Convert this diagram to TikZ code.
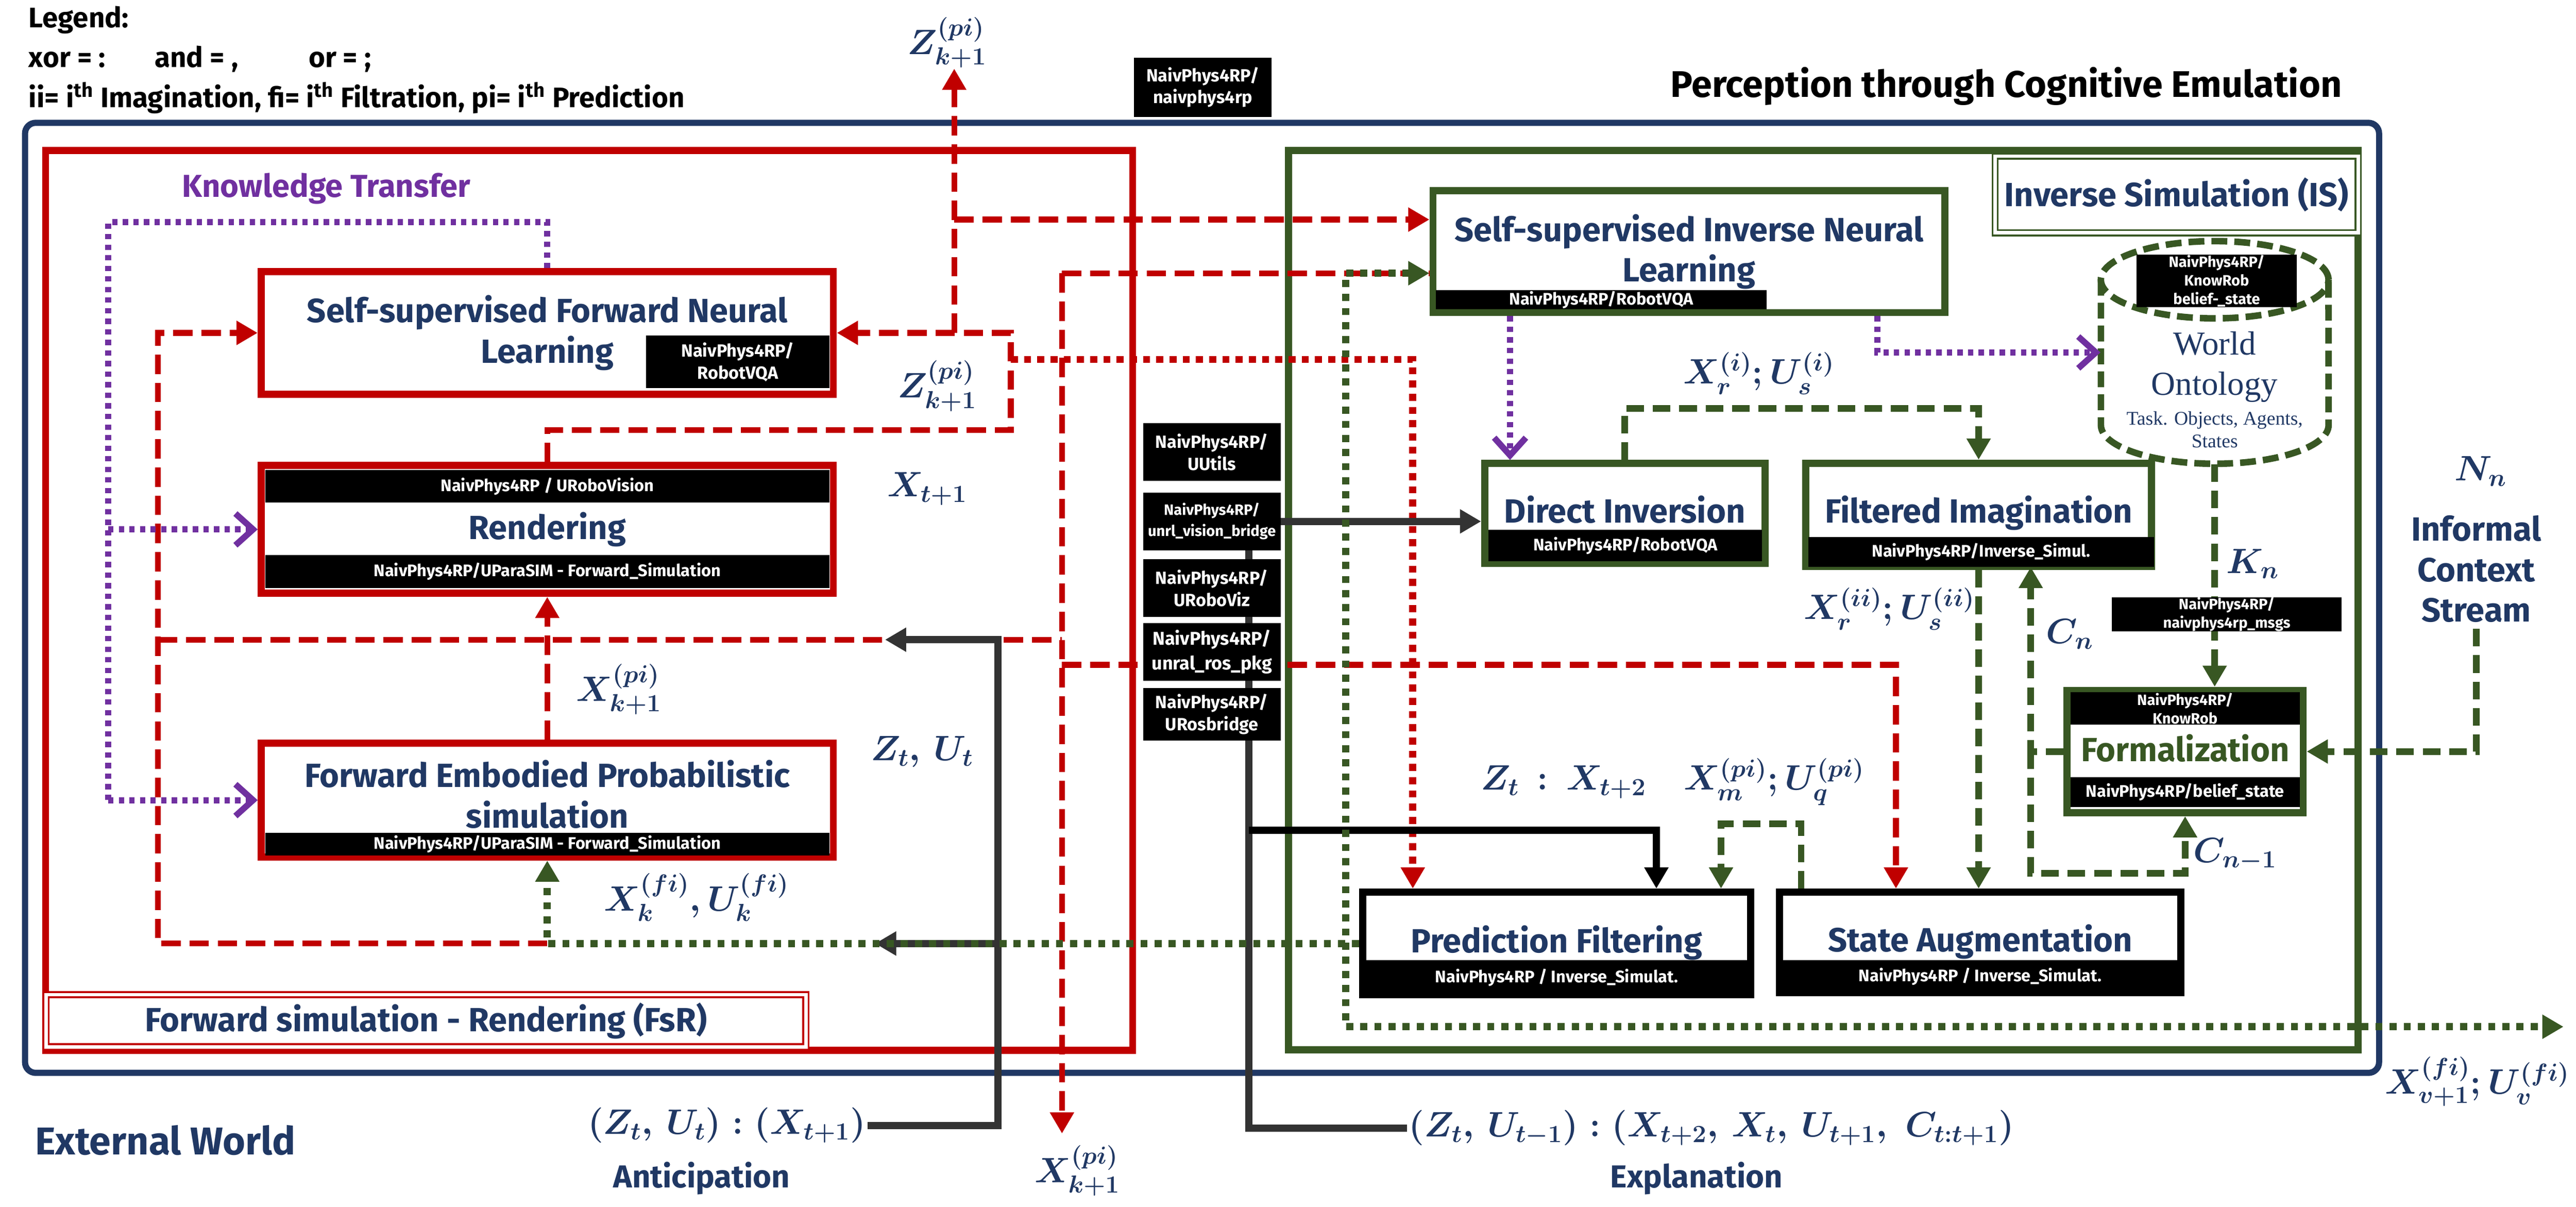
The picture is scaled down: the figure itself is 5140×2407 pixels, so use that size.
\RequirePackage{fix-cm}
\documentclass[tikz,border=0pt]{standalone}
\usepackage{fontspec}
\setsansfont{Fira Sans}
\newfontfamily\wofont{Liberation Serif}
\usepackage{amsmath}
\usetikzlibrary{arrows.meta,positioning}

\definecolor{navy}{HTML}{203864}
\definecolor{fsrred}{HTML}{C00000}
\definecolor{isgreen}{HTML}{385723}
\definecolor{ktpurple}{HTML}{7030A0}
\definecolor{wirec}{HTML}{333333}

\newcommand{\bxfont}{\sffamily\bfseries\fontsize{19}{23}\selectfont}
\newcommand{\stfont}{\sffamily\bfseries\fontsize{9.5}{11.5}\selectfont}
\newcommand{\tgfont}{\sffamily\bfseries\fontsize{10}{12.5}\selectfont}
\newcommand{\mlfont}{\fontsize{20}{24}\selectfont\boldmath}
\newcommand{\lgfont}{\sffamily\bfseries\fontsize{16}{19}\selectfont}

\begin{document}
\begin{tikzpicture}[x=0.01cm, y=-0.01cm, >={Triangle[length=12pt,width=13pt]},
    box/.style={draw, line width=4pt, fill=white, inner sep=0pt, align=center, text=navy, font=\bxfont},
    redbox/.style={box, draw=fsrred},
    greenbox/.style={box, draw=isgreen},
    blackbox/.style={box, draw=black},
    strip/.style={fill=black, text=white, font=\stfont, inner sep=0pt, align=center},
    coltag/.style={strip, font=\tgfont, minimum width=2.74cm},
    lbl/.style={text=navy, font=\mlfont, inner sep=1pt},
    word/.style={text=navy, font=\bxfont, align=center, anchor=base, inner sep=0pt},
    rdash/.style={draw=fsrred, line width=3.3pt, dash pattern=on 11pt off 5pt},
    rdot/.style={draw=fsrred, line width=4pt, dash pattern=on 4pt off 3.5pt},
    gdash/.style={draw=isgreen, line width=3.7pt, dash pattern=on 10pt off 5pt},
    gdot/.style={draw=isgreen, line width=4pt, dash pattern=on 4pt off 4pt},
    pdot/.style={draw=ktpurple, line width=3.5pt, dash pattern=on 3pt off 3pt},
    pto/.style={-{Straight Barb[length=10pt,width=18pt]}},
    wire/.style={draw=wirec, line width=4pt}]
  \useasboundingbox (0,0) rectangle (5140,2407);

  % legend and title
  \node[font=\lgfont, anchor=west] (leg1) at (45,40) {Legend:};
  \node[font=\lgfont, anchor=west] (leg2) at (45,118) {xor = :\hspace{28pt}and = ,\hspace{40pt}or = ;};
  \node[font=\lgfont, anchor=west] (leg3) at (45,195) {ii= i\textsuperscript{th} Imagination, fi= i\textsuperscript{th} Filtration, pi= i\textsuperscript{th} Prediction};
  \node[font=\sffamily\bfseries\fontsize{21}{25}\selectfont] (title) at (4003,172) {Perception through Cognitive Emulation};

  % frames
  \draw[navy, line width=3.5pt, rounded corners=6pt] (50,245) rectangle (4747,2140);
  \draw[fsrred, line width=4pt] (91,300) rectangle (2260,2095);
  \draw[isgreen, line width=4pt] (2571,300) rectangle (4705,2094);
  \node[draw=fsrred, double=white, double distance=2pt, line width=1pt, fill=white, minimum width=15.15cm, minimum height=1.04cm, text=navy, font=\bxfont] (fsr) at (850,2036) {Forward simulation - Rendering (FsR)};
  \node[draw=isgreen, double=white, double distance=2pt, line width=1pt, minimum width=7.24cm, minimum height=1.53cm, text=navy, font=\bxfont] (islbl) at (4343,388) {Inverse Simulation (IS)};
  \node[text=ktpurple, font=\sffamily\bfseries\fontsize{18}{22}\selectfont] (kt) at (651,376) {Knowledge Transfer};

  % labels
  \node[lbl] (zpo) at (1890,85) {$Z^{(pi)}_{k+1}$};
  \node[lbl] (zpi) at (1870,770) {$Z^{(pi)}_{k+1}$};
  \node[lbl] (xt1) at (1850,975) {$X_{t+1}$};
  \node[lbl] (xpk) at (1235,1375) {$X^{(pi)}_{k+1}$};
  \node[lbl] (ztut) at (1840,1500) {$Z_t,\,U_t$};
  \node[lbl] (xfk) at (1390,1790) {$X^{(fi)}_k,U^{(fi)}_k$};
  \node[lbl] (antic) at (1450,2245) {$(Z_t,\,U_t):(X_{t+1})$};
  \node[text=navy, font=\sffamily\bfseries\fontsize{18}{22}\selectfont] (anticw) at (1400,2350) {Anticipation};
  \node[lbl] (xpb) at (2150,2335) {$X^{(pi)}_{k+1}$};
  \node[text=navy, font=\sffamily\bfseries\fontsize{22}{26}\selectfont] (extw) at (330,2274) {External World};
  \node[lbl] (expl) at (3415,2250) {$(Z_t,\,U_{t-1}):(X_{t+2},\,X_t,\,U_{t+1},\;C_{t:t+1})$};
  \node[text=navy, font=\sffamily\bfseries\fontsize{18}{22}\selectfont] (explw) at (3385,2350) {Explanation};
  \node[lbl] (xfv) at (4943,2157) {$X^{(fi)}_{v+1};U^{(fi)}_v$};
  \node[lbl] (xir) at (3510,745) {$X^{(i)}_r;U^{(i)}_s$};
  \node[lbl] (xiir) at (3770,1215) {$X^{(ii)}_r;U^{(ii)}_s$};
  \node[lbl] (ztx) at (3120,1560) {$Z_t\,:\,X_{t+2}$};
  \node[lbl] (xmq) at (3540,1560) {$X^{(pi)}_m;U^{(pi)}_q$};
  \node[lbl] (kn) at (4495,1125) {$K_n$};
  \node[lbl] (cnl) at (4130,1265) {$C_n$};
  \node[lbl] (cn1) at (4460,1705) {$C_{n-1}$};
  \node[lbl] (nn) at (4950,940) {$N_n$};
  \node[text=navy, font=\bxfont, align=center] (ics) at (4941,1135) {Informal\\Context\\Stream};

  % forward simulation - rendering
  \node[redbox, minimum width=11.41cm, minimum height=2.44cm] (sfnl) at (1092,664) {Self-supervised Forward Neural\\Learning};
  \node[strip, font=\tgfont, minimum width=3.65cm, minimum height=1.05cm] (sfnltag) at (1472,722) {NaivPhys4RP/\\RobotVQA};
  \node[redbox, minimum width=11.41cm, minimum height=2.55cm] (rend) at (1092,1056) {Rendering};
  \node[strip, minimum width=11.25cm, minimum height=0.65cm] (rendtop) at (1092,970) {NaivPhys4RP / URoboVision};
  \node[strip, minimum width=11.25cm, minimum height=0.66cm] (rendbot) at (1092,1140) {NaivPhys4RP/UParaSIM - Forward\_Simulation};
  \node[redbox, minimum width=11.41cm, minimum height=2.27cm] (feps) at (1092,1596) {};
  \node[text=navy, font=\bxfont, align=center, inner sep=0pt] (fepstxt) at (1092,1584) {Forward Embodied Probabilistic\\simulation};
  \node[strip, minimum width=11.25cm, minimum height=0.45cm] (fepsstrip) at (1092,1684) {NaivPhys4RP/UParaSIM - Forward\_Simulation};

  % inverse simulation
  \node[greenbox, minimum width=10.21cm, minimum height=2.43cm] (sinl) at (3370,502) {Self-supervised Inverse Neural\\Learning};
  \node[strip, minimum width=6.59cm, minimum height=0.38cm] (sinltag) at (3195,598) {NaivPhys4RP/RobotVQA};
  \node[greenbox, minimum width=5.59cm, minimum height=1.99cm] (di) at (3242,1024) {};
  \node[word] (ditxt) at (3242,1043) {Direct Inversion};
  \node[strip, minimum width=5.45cm, minimum height=0.62cm] (distrip) at (3243,1088) {NaivPhys4RP/RobotVQA};
  \node[greenbox, minimum width=6.9cm, minimum height=2.06cm] (fi) at (3948,1027) {};
  \node[word] (fitxt) at (3948,1043) {Filtered Imagination};
  \node[strip, minimum width=6.9cm, minimum height=0.6cm] (fistrip) at (3953,1101) {NaivPhys4RP/Inverse\_Simul.};
  \node[greenbox, minimum width=4.71cm, minimum height=2.44cm] (form) at (4360,1499) {};
  \node[strip, font=\sffamily\bfseries\fontsize{8.5}{10.5}\selectfont, minimum width=4.57cm, minimum height=0.64cm] (formtop) at (4360,1413) {NaivPhys4RP/\\KnowRob};
  \node[word, text=isgreen] (formtxt) at (4360,1519) {Formalization};
  \node[strip, minimum width=4.57cm, minimum height=0.6cm] (formbot) at (4360,1580) {NaivPhys4RP/belief\_state};
  \node[blackbox, minimum width=7.74cm, minimum height=2.05cm] (pf) at (3106,1882) {};
  \node[word] (pftxt) at (3106,1900) {Prediction Filtering};
  \node[strip, minimum width=7.74cm, minimum height=0.7cm] (pfstrip) at (3106,1950) {NaivPhys4RP / Inverse\_Simulat.};
  \node[blackbox, minimum width=8cm, minimum height=2.01cm] (sa) at (3951,1880) {};
  \node[word] (satxt) at (3951,1898) {State Augmentation};
  \node[strip, minimum width=8cm, minimum height=0.66cm] (sastrip) at (3951,1948) {NaivPhys4RP / Inverse\_Simulat.};

  % world ontology
  \node[minimum width=4.54cm, minimum height=4.44cm] (wo) at (4419,703) {};
  \draw[isgreen, line width=3.7pt, dash pattern=on 9pt off 4pt] (4419,558) ellipse [x radius=2.27cm, y radius=0.77cm];
  \draw[isgreen, line width=3.7pt, dash pattern=on 9pt off 4pt] (4192,558) -- (4192,848) arc[start angle=180, end angle=360, x radius=2.27cm, y radius=0.77cm] -- (4646,558);
  \node[strip, font=\sffamily\bfseries\fontsize{8.5}{10.5}\selectfont, minimum width=3.2cm, minimum height=1.05cm] (wotag) at (4423,560) {NaivPhys4RP/\\KnowRob\\belief-\_state};
  \node[text=navy, font=\wofont\fontsize{19}{23}\selectfont, align=center] (wotxt) at (4419,732) {World\\Ontology};
  \node[text=navy, font=\wofont\fontsize{11}{13}\selectfont, align=center] (wosub) at (4419,857) {Task. Objects, Agents,\\States};

  % red connectors
  \coordinate (rl) at (2017,858);
  \draw[rdash,->] (rend.north) |- (rl) |- (sfnl.east);
  \coordinate (zj) at (1904,664);
  \coordinate (zo) at (1904,137);
  \draw[rdash,->] (zj) -- (zo);
  \coordinate (zs) at (1904,438);
  \draw[rdash,->] (zs) -- (zs -| sinl.west);
  \draw[rdash,->] (feps.north) -- (rend.south);
  \coordinate (fl) at (315,1882);
  \draw[rdash,->] (feps.south |- fl) -- (fl) |- (sfnl.west);
  \coordinate (rh) at (315,1276);
  \coordinate (rv) at (2119,1276);
  \draw[rdash] (rh) -- (rv);
  \coordinate (rt) at (2119,545);
  \coordinate (rb) at (2119,2261);
  \draw[rdash,->] (rt) -- (rb);
  \draw[rdash] (rt) -- (rt -| sinl.west);
  \coordinate (ra) at (2119,1326);
  \coordinate (rac) at (3783,1326);
  \draw[rdash,->] (ra) -- (rac) -- (rac |- sa.north);
  \coordinate (rdo) at (2017,717);
  \coordinate (rdc) at (2819,717);
  \draw[rdot,->] (rdo) -- (rdc) -- (rdc |- pf.north);

  % wires
  \coordinate (wz) at (1991,1276);
  \coordinate (wzt) at (1766,1276);
  \draw[wire,->] (antic.east) -| (wz) -- (wzt);
  \coordinate (wf) at (1991,1882);
  \coordinate (wft) at (1746,1882);
  \draw[wire,->] (wf) -- (wft);
  \coordinate (we) at (2492,1097);
  \draw[wire] (expl.west) -| (we);
  \coordinate (wb) at (2492,1656);
  \coordinate (wbc) at (3305,1656);
  \draw[line width=4pt,->] (wb) -- (wbc) -- (wbc |- pf.north);

  % package tags
  \node[coltag, minimum height=1.18cm] (ttop) at (2400,174) {NaivPhys4RP/\\naivphys4rp};
  \node[coltag, minimum height=1.15cm] (tuu) at (2418,902) {NaivPhys4RP/\\UUtils};
  \node[coltag, minimum height=1.15cm, font=\sffamily\bfseries\fontsize{8.5}{12}\selectfont] (tvb) at (2418,1040) {NaivPhys4RP/\\unrl\_vision\_bridge};
  \node[coltag, minimum height=1.15cm] (tviz) at (2418,1173) {NaivPhys4RP/\\URoboViz};
  \node[coltag, minimum height=1.15cm, font=\sffamily\bfseries\fontsize{10.5}{14}\selectfont] (tros) at (2418,1300) {NaivPhys4RP/\\unral\_ros\_pkg};
  \node[coltag, minimum height=1.05cm] (tbr) at (2418,1425) {NaivPhys4RP/\\URosbridge};
  \draw[wire,->] (tvb.east) -- (tvb.east -| di.west);

  % green connectors
  \draw[gdot,->] (pf.west) -| (feps.south);
  \coordinate (gt) at (2685,545);
  \coordinate (gv) at (2685,2048);
  \coordinate (ge) at (5115,2048);
  \draw[gdot,<->] (gt -| sinl.west) -- (gt) -- (gv) -- (ge);
  \coordinate (gi) at (3948,815);
  \draw[gdash,->] (di.north) |- (gi) -- (fi.north);
  \draw[gdash,->] (fi.south) -- (fi.south |- sa.north);
  \coordinate (cn) at (4052,1131);
  \draw[gdash,->] (form.west) -| (cn);
  \coordinate (cm) at (4052,1742);
  \coordinate (cmc) at (4360,1742);
  \draw[gdash,->] (form.west -| cm) -- (cm) -- (cmc) -- (form.south);
  \draw[gdash,->] (wo.south) -- (wo.south |- form.north);
  \draw[gdash,->] (ics.south) |- (form.east);
  \coordinate (sl) at (3594,1643);
  \coordinate (sr) at (3434,1643);
  \draw[gdash,->] (sa.north -| sl) -- (sl) -- (sr) -- (sr |- pf.north);
  \node[strip, font=\sffamily\bfseries\fontsize{8.5}{10.5}\selectfont, minimum width=4.58cm, minimum height=0.6cm] (msgs) at (4443,1225) {NaivPhys4RP/\\naivphys4rp\_msgs};

  % knowledge transfer
  \coordinate (ka) at (1092,443);
  \coordinate (kb) at (216,443);
  \coordinate (kc) at (216,1596);
  \draw[pdot] (sfnl.north) -- (ka) -- (kb) -- (kc);
  \draw[pdot,pto] (kb |- rend.west) -- (rend.west);
  \draw[pdot,pto] (kc) -- (feps.west);
  \coordinate (kd) at (3013,0);
  \draw[pdot,pto] (sinl.south -| kd) -- (di.north -| kd);
  \coordinate (ke) at (3746,703);
  \draw[pdot,pto] (sinl.south -| ke) -- (ke) -- (wo.west);
\end{tikzpicture}
\end{document}
